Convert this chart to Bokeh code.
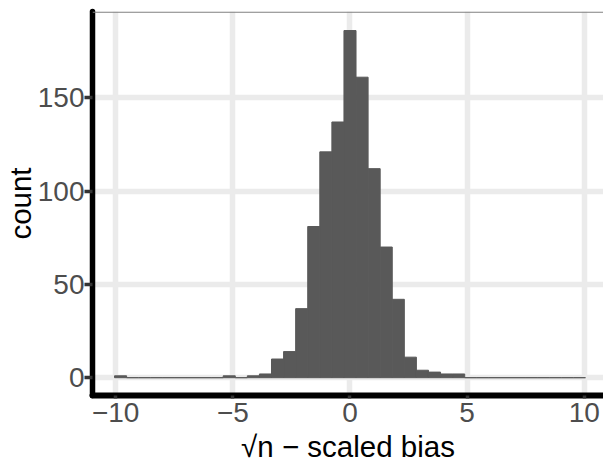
import numpy as np
from bokeh.plotting import figure
from bokeh.models import Range1d, FixedTicker, Span
from bokeh.embed import file_html
from bokeh.resources import INLINE

# histogram counts, bins centred on 0
counts = [1, 0, 0, 0, 0, 0, 0, 0, 0, 1, 0, 1, 2, 10, 14, 37, 81, 121, 137,
          186, 161, 112, 70, 42, 11, 4, 3, 2, 2, 0, 0, 0, 0, 0, 0, 0, 0, 0, 0]
bin_lo = -10.05
bin_hi = 10.05
x_ticks = [-10, -5, 0, 5, 10]
x_tick_labels = ["\u221210", "\u22125", "0", "5", "10"]
y_ticks = [0, 50, 100, 150]
x_title = "\u221an \u2212 scaled bias"
y_title = "count"

edges = np.linspace(bin_lo, bin_hi, len(counts) + 1)

FONT = "Liberation Sans"

p = figure(width=603, height=466, output_backend="svg", toolbar_location=None,
           x_range=Range1d(-10.99, 10.82), y_range=Range1d(-9.54, 196.2),
           min_border_left=91, min_border_right=0, min_border_top=11,
           min_border_bottom=71)
p.background_fill_color = "white"
p.border_fill_color = "white"
p.outline_line_color = None

p.quad(left=edges[:-1], right=edges[1:], bottom=0, top=counts,
       fill_color="#595959", line_color="#595959", line_width=1)

p.add_layout(Span(location=195.9, dimension="width", line_color="#808080",
                  line_width=1.3))

p.xaxis.ticker = FixedTicker(ticks=x_ticks)
p.yaxis.ticker = FixedTicker(ticks=y_ticks)
p.xaxis.major_label_overrides = {t: l for t, l in zip(x_ticks, x_tick_labels)}

for g in (p.xgrid, p.ygrid):
    g.grid_line_color = "#EBEBEB"
    g.grid_line_width = 5.5
    g.minor_grid_line_color = None

for ax in (p.xaxis, p.yaxis):
    ax.axis_line_color = "black"
    ax.axis_line_cap = "round"
    ax.major_tick_line_color = "#333333"
    ax.major_tick_in = 0
    ax.minor_tick_line_color = None
    ax.major_label_text_font = FONT
    ax.major_label_text_font_size = "28px"
    ax.major_label_text_color = "#4D4D4D"
    ax.axis_label_text_font = FONT
    ax.axis_label_text_font_size = "29.5px"
    ax.axis_label_text_font_style = "normal"
    ax.axis_label_text_color = "black"

p.xaxis.axis_line_width = 6
p.yaxis.axis_line_width = 5.5
p.xaxis.major_tick_line_width = 3.5
p.yaxis.major_tick_line_width = 3.5
p.xaxis.major_tick_out = 3
p.yaxis.major_tick_out = 8
p.xaxis.major_label_standoff = 4
p.yaxis.major_label_standoff = 0
p.xaxis.axis_label = x_title
p.yaxis.axis_label = y_title
p.xaxis.axis_label_standoff = 5
p.yaxis.axis_label_standoff = -2

open("out.html", "w").write(file_html(p, INLINE))
